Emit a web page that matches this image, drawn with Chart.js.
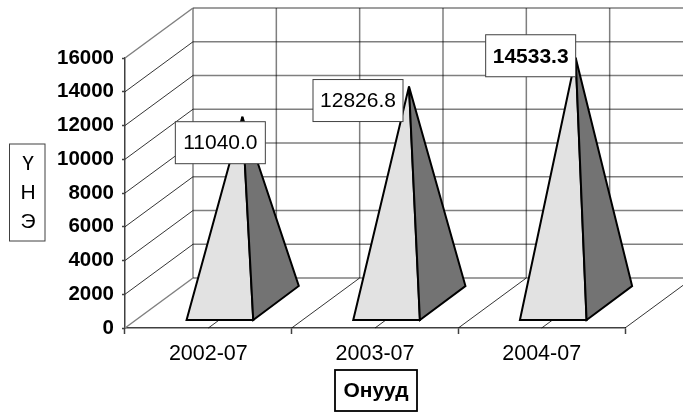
<!DOCTYPE html>
<html>
<head>
<meta charset="utf-8">
<title>Онууд</title>
<script src="https://cdn.jsdelivr.net/npm/chart.js@4/dist/chart.umd.js"></script>
<style>
  html, body { margin: 0; padding: 0; background: #fff; }
  canvas { display: block; }
</style>
</head>
<body>
<canvas id="chart" width="683" height="412"></canvas>
<script>
const categories = ["2002-07", "2003-07", "2004-07"];
const values = [11040.0, 12826.8, 14533.3];
const yAxisMax = 16000;
const yAxisStep = 2000;
const yTitleLetters = ["Ү", "Н", "Э"];
const xTitle = "Онууд";

// 3d look of the box
const depthX = 68;
const depthY = 50;
const FONT = '"Liberation Sans", Arial, sans-serif';
const GRID = "rgba(0,0,0,0.5)";

// data labels were moved by hand in the original, offset from the bar top
const labelOffsets = [[12, 1], [-17, -11], [-11, -27]];
const labelBold = [false, false, true];

function line(ctx, x1, y1, x2, y2) {
    ctx.beginPath();
    ctx.moveTo(x1, y1);
    ctx.lineTo(x2, y2);
    ctx.stroke();
}

function box(ctx, x, y, w, h, color, width) {
    ctx.fillStyle = "#fff";
    ctx.fillRect(x, y, w, h);
    ctx.strokeStyle = color;
    ctx.lineWidth = width;
    ctx.strokeRect(x, y, w, h);
}

const wallsPlugin = {
    id: "walls",
    beforeDatasetsDraw(chart) {
        const ctx = chart.ctx;
        const xs = chart.scales.x;
        const ys = chart.scales.y;
        const step = xs.width / (categories.length * 2);
        ctx.save();

        // back wall
        ctx.strokeStyle = GRID;
        ctx.lineWidth = 1.5;
        const wallRight = xs.right + depthX;
        ys.ticks.forEach(t => {
            const y = ys.getPixelForValue(t.value) - depthY;
            line(ctx, xs.left + depthX, y, wallRight, y);
        });
        for (let i = 0; i <= categories.length * 2; i++) {
            const x = xs.left + i * step + depthX;
            line(ctx, x, ys.top - depthY, x, ys.bottom - depthY);
        }

        // side wall
        ctx.strokeStyle = "#000";
        ctx.lineWidth = 0.8;
        ys.ticks.forEach(t => {
            const y = ys.getPixelForValue(t.value);
            if (t.value === 0 || t.value === yAxisMax) return;
            line(ctx, xs.left, y, xs.left + depthX, y - depthY);
        });

        // floor
        for (let i = 1; i <= categories.length * 2; i++) {
            const x = xs.left + i * step;
            line(ctx, x, ys.bottom, x + depthX, ys.bottom - depthY);
        }

        // edges are gray like the wall
        ctx.strokeStyle = "#808080";
        ctx.lineWidth = 1.5;
        line(ctx, xs.left, ys.top, xs.left + depthX, ys.top - depthY);
        line(ctx, xs.left, ys.bottom, xs.left + depthX, ys.bottom - depthY);
        ctx.restore();
    }
};

const pyramidPlugin = {
    id: "pyramids",
    afterDatasetsDraw(chart) {
        const ctx = chart.ctx;
        const bars = chart.getDatasetMeta(0).data;
        const base = chart.scales.y.bottom;
        ctx.save();
        ctx.lineJoin = "miter";
        ctx.miterLimit = 6;

        bars.forEach((bar, i) => {
            const half = bar.width / 2;
            const frontDepth = 0.16;
            const backDepth = 0.84;
            const fl = [bar.x - half + depthX * frontDepth + 0.7, base - depthY * frontDepth];
            const fr = [bar.x + half + depthX * frontDepth + 0.7, base - depthY * frontDepth];
            const br = [bar.x + half + depthX * backDepth, base - depthY * backDepth];
            const top = [bar.x + depthX / 2, bar.y - depthY / 2];

            ctx.strokeStyle = "#000";
            ctx.lineWidth = 2;

            ctx.fillStyle = "#e2e2e2";
            ctx.beginPath();
            ctx.moveTo(fl[0], fl[1]);
            ctx.lineTo(fr[0], fr[1]);
            ctx.lineTo(top[0], top[1]);
            ctx.closePath();
            ctx.fill();
            ctx.stroke();

            ctx.fillStyle = "#737373";
            ctx.beginPath();
            ctx.moveTo(fr[0], fr[1]);
            ctx.lineTo(br[0], br[1]);
            ctx.lineTo(top[0], top[1]);
            ctx.closePath();
            ctx.fill();
            ctx.stroke();
        });

        // data labels
        ctx.textAlign = "center";
        ctx.textBaseline = "middle";
        bars.forEach((bar, i) => {
            const cx = bar.x + labelOffsets[i][0];
            const cy = bar.y + labelOffsets[i][1];
            box(ctx, cx - 45, cy - 21, 90, 42, "#404040", 1);
            ctx.fillStyle = "#000";
            ctx.font = (labelBold[i] ? "bold " : "") + "21px " + FONT;
            ctx.fillText(values[i].toFixed(1), cx, cy + 1);
        });

        // axis titles
        box(ctx, 9.5, 144, 35.5, 97, "#404040", 1);
        ctx.fillStyle = "#000";
        ctx.font = "21px " + FONT;
        yTitleLetters.forEach((letter, i) => {
            ctx.fillText(letter, 28, 164 + i * 29);
        });

        box(ctx, 335, 370, 82, 41, "#000", 1.8);
        ctx.fillStyle = "#000";
        ctx.font = "bold 21px " + FONT;
        ctx.fillText(xTitle, 376, 391);
        ctx.restore();
    }
};

new Chart(document.getElementById("chart"), {
    type: "bar",
    data: {
        labels: categories,
        datasets: [{
            data: values,
            backgroundColor: "transparent",
            borderWidth: 0,
            categoryPercentage: 1,
            barPercentage: 0.4
        }]
    },
    options: {
        responsive: false,
        animation: false,
        layout: { padding: { top: 58, right: 58, left: 0, bottom: 0 } },
        plugins: {
            legend: { display: false },
            tooltip: { enabled: false },
            title: { display: false }
        },
        scales: {
            x: {
                afterFit: s => { s.height = 84; },
                grid: {
                    offset: true,
                    drawOnChartArea: false,
                    tickLength: 6,
                    tickColor: "#404040",
                    tickWidth: 1.5
                },
                border: { color: "#404040", width: 1.5 },
                ticks: {
                    color: "#000",
                    padding: 7,
                    maxRotation: 0,
                    font: { family: FONT, size: 21.5 }
                }
            },
            y: {
                min: 0,
                max: yAxisMax,
                afterFit: s => { s.width = 125; },
                grid: {
                    drawOnChartArea: false,
                    tickLength: 3,
                    tickColor: "#404040",
                    tickWidth: 1.5
                },
                border: { color: "#404040", width: 1.5 },
                ticks: {
                    stepSize: yAxisStep,
                    color: "#000",
                    padding: 8,
                    callback: v => String(v),
                    font: { family: FONT, size: 20.5, weight: "bold" }
                }
            }
        }
    },
    plugins: [wallsPlugin, pyramidPlugin]
});
</script>
</body>
</html>
